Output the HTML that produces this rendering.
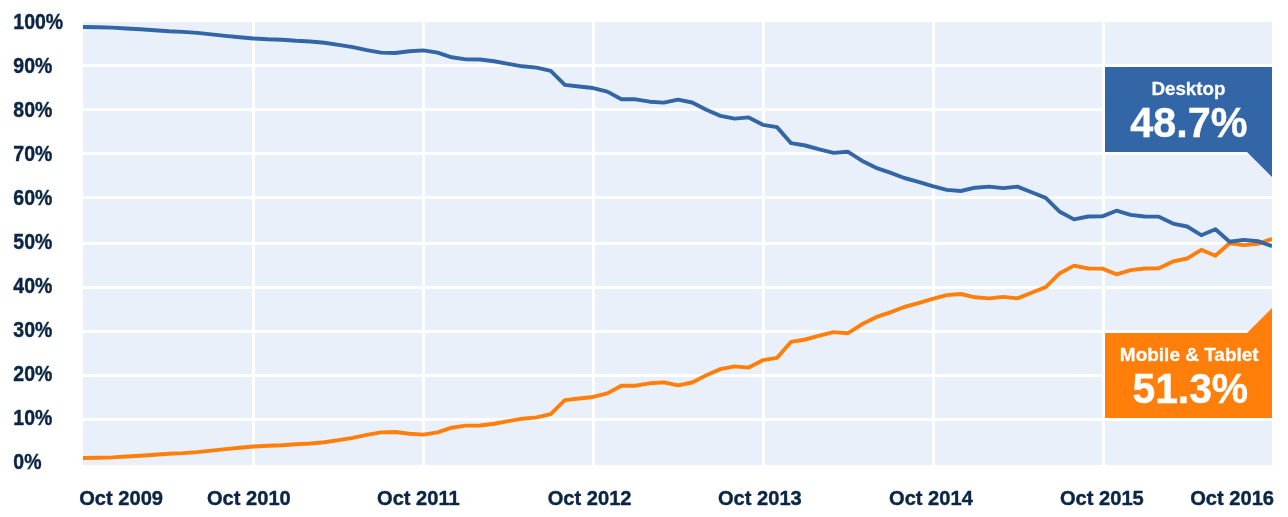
<!DOCTYPE html>
<html lang="en"><head><meta charset="utf-8"><title>Desktop vs Mobile &amp; Tablet</title>
<style>
html,body{margin:0;padding:0;background:#fff;}
body{width:1288px;height:517px;overflow:hidden;}
svg{display:block;}
text{font-family:"Liberation Sans",sans-serif;font-weight:bold;}
.ax{fill:#0b2545;font-size:20px;stroke:#0b2545;stroke-width:0.4px;stroke-linejoin:round;}
.w{fill:#fff;stroke:#fff;stroke-linejoin:round;}
.big{stroke-width:0.4px;}
.sm{stroke-width:0.25px;}
</style></head><body>
<svg width="1288" height="517" viewBox="0 0 1288 517">
<defs><clipPath id="pc"><rect x="83" y="22" width="1189" height="443"/></clipPath></defs>
<rect x="0" y="0" width="1288" height="517" fill="#fff"/>
<rect x="83" y="22" width="1189" height="443" fill="#eaf0f9"/>

<g stroke="#fff" stroke-width="3" shape-rendering="crispEdges">
<line x1="83" x2="1272" y1="65.5" y2="65.5"/>
<line x1="83" x2="1272" y1="109.5" y2="109.5"/>
<line x1="83" x2="1272" y1="153.5" y2="153.5"/>
<line x1="83" x2="1272" y1="197.5" y2="197.5"/>
<line x1="83" x2="1272" y1="243.5" y2="243.5"/>
<line x1="83" x2="1272" y1="287.5" y2="287.5"/>
<line x1="83" x2="1272" y1="331.5" y2="331.5"/>
<line x1="83" x2="1272" y1="375.5" y2="375.5"/>
<line x1="83" x2="1272" y1="419.5" y2="419.5"/>
<line y1="22" y2="465" x1="253.5" x2="253.5"/>
<line y1="22" y2="465" x1="423.5" x2="423.5"/>
<line y1="22" y2="465" x1="593.5" x2="593.5"/>
<line y1="22" y2="465" x1="763.5" x2="763.5"/>
<line y1="22" y2="465" x1="933.5" x2="933.5"/>
<line y1="22" y2="465" x1="1103.5" x2="1103.5"/>
</g>
<path d="M1105 67H1272V177L1247 152H1105Z" fill="#3366a6"/>
<path d="M1105 418H1272V308L1247 333H1105Z" fill="#ff7f0a"/>
<g clip-path="url(#pc)" fill="none" stroke-width="3.9" stroke-linejoin="round" stroke-linecap="butt">
<polyline stroke="#ff7f0a" points="83.00,458.05 84.00,458.05 98.14,457.80 112.29,457.40 126.43,456.50 140.57,455.70 154.71,454.70 168.86,453.70 183.00,453.10 197.14,452.10 211.29,450.60 225.43,449.15 239.57,447.80 253.71,446.50 267.86,445.70 282.00,445.30 296.14,444.20 310.29,443.50 324.43,442.30 338.57,440.10 352.71,437.80 366.86,434.80 381.00,432.40 395.14,432.00 409.29,433.70 423.43,434.60 437.57,432.40 451.71,427.70 465.86,425.60 480.00,425.50 494.14,423.75 508.29,421.10 522.43,418.70 536.57,417.40 550.71,414.20 564.86,400.10 579.00,398.50 593.14,396.95 607.29,393.40 621.43,385.70 635.57,385.70 649.71,383.30 663.86,382.40 678.00,385.40 692.14,382.50 706.29,375.20 720.43,369.10 734.57,366.40 748.71,367.60 762.86,360.20 777.00,357.90 791.14,341.80 805.29,339.50 819.43,335.60 833.57,332.10 847.71,333.30 861.86,324.35 876.00,317.20 890.14,312.30 904.29,307.00 918.43,303.15 932.57,298.80 946.71,295.10 960.86,294.00 975.00,297.30 989.14,298.40 1003.29,296.90 1017.43,298.40 1031.57,292.70 1045.71,287.10 1059.86,273.20 1074.00,265.60 1088.14,268.50 1102.29,268.60 1116.43,274.30 1130.57,270.10 1144.71,268.50 1158.86,268.35 1173.00,261.45 1187.14,258.50 1201.29,249.80 1215.43,255.70 1229.57,243.25 1243.71,245.10 1257.86,243.80 1272.00,238.90"/>
<polyline stroke="#3366a6" points="83.00,26.95 84.00,26.95 98.14,27.20 112.29,27.60 126.43,28.50 140.57,29.30 154.71,30.30 168.86,31.30 183.00,31.90 197.14,32.90 211.29,34.40 225.43,35.85 239.57,37.20 253.71,38.50 267.86,39.30 282.00,39.70 296.14,40.80 310.29,41.50 324.43,42.70 338.57,44.90 352.71,47.20 366.86,50.20 381.00,52.60 395.14,53.00 409.29,51.30 423.43,50.40 437.57,52.60 451.71,57.30 465.86,59.40 480.00,59.50 494.14,61.25 508.29,63.90 522.43,66.30 536.57,67.60 550.71,70.80 564.86,84.90 579.00,86.50 593.14,88.05 607.29,91.60 621.43,99.30 635.57,99.30 649.71,101.70 663.86,102.60 678.00,99.60 692.14,102.50 706.29,109.80 720.43,115.90 734.57,118.60 748.71,117.40 762.86,124.80 777.00,127.10 791.14,143.20 805.29,145.50 819.43,149.40 833.57,152.90 847.71,151.70 861.86,160.65 876.00,167.80 890.14,172.70 904.29,178.00 918.43,181.85 932.57,186.20 946.71,189.90 960.86,191.00 975.00,187.70 989.14,186.60 1003.29,188.10 1017.43,186.60 1031.57,192.30 1045.71,197.90 1059.86,211.80 1074.00,219.40 1088.14,216.50 1102.29,216.40 1116.43,210.70 1130.57,214.90 1144.71,216.50 1158.86,216.65 1173.00,223.55 1187.14,226.50 1201.29,235.20 1215.43,229.30 1229.57,241.75 1243.71,239.90 1257.86,241.20 1272.00,246.10"/>
</g>
<g opacity="0.999">
<text class="ax" transform="translate(13.3,28.85) scale(0.975,1.06)">100%</text>
<text class="ax" transform="translate(13.3,72.85) scale(0.975,1.06)">90%</text>
<text class="ax" transform="translate(13.3,116.85) scale(0.975,1.06)">80%</text>
<text class="ax" transform="translate(13.3,160.85) scale(0.975,1.06)">70%</text>
<text class="ax" transform="translate(13.3,204.85) scale(0.975,1.06)">60%</text>
<text class="ax" transform="translate(13.3,248.85) scale(0.975,1.06)">50%</text>
<text class="ax" transform="translate(13.3,292.85) scale(0.975,1.06)">40%</text>
<text class="ax" transform="translate(13.3,336.85) scale(0.975,1.06)">30%</text>
<text class="ax" transform="translate(13.3,380.85) scale(0.975,1.06)">20%</text>
<text class="ax" transform="translate(13.3,424.85) scale(0.975,1.06)">10%</text>
<text class="ax" transform="translate(13.3,468.85) scale(0.975,1.06)">0%</text>
<text class="ax" transform="translate(79.20,504.75) scale(1.006,1.052)">Oct 2009</text>
<text class="ax" transform="translate(206.90,504.75) scale(1.006,1.052)">Oct 2010</text>
<text class="ax" transform="translate(377.00,504.75) scale(1.006,1.052)">Oct 2011</text>
<text class="ax" transform="translate(547.70,504.75) scale(1.006,1.052)">Oct 2012</text>
<text class="ax" transform="translate(717.90,504.75) scale(1.006,1.052)">Oct 2013</text>
<text class="ax" transform="translate(889.00,504.75) scale(1.006,1.052)">Oct 2014</text>
<text class="ax" transform="translate(1059.90,504.75) scale(1.006,1.052)">Oct 2015</text>
<text class="ax" transform="translate(1190.20,504.75) scale(1.006,1.052)">Oct 2016</text>
<text class="w sm" transform="translate(1188.45,94.7) scale(1.016,1)" font-size="18.5" text-anchor="middle">Desktop</text>
<text class="w big" transform="translate(1188.85,137.3) scale(0.985,1)" font-size="42" text-anchor="middle">48.7%</text>
<text class="w sm" transform="translate(1189.25,360.6) scale(1.026,1)" font-size="18.5" text-anchor="middle">Mobile &amp; Tablet</text>
<text class="w big" transform="translate(1190.3,403.1) scale(0.979,1)" font-size="41.7" text-anchor="middle">51.3%</text>
</g>
</svg></body></html>
